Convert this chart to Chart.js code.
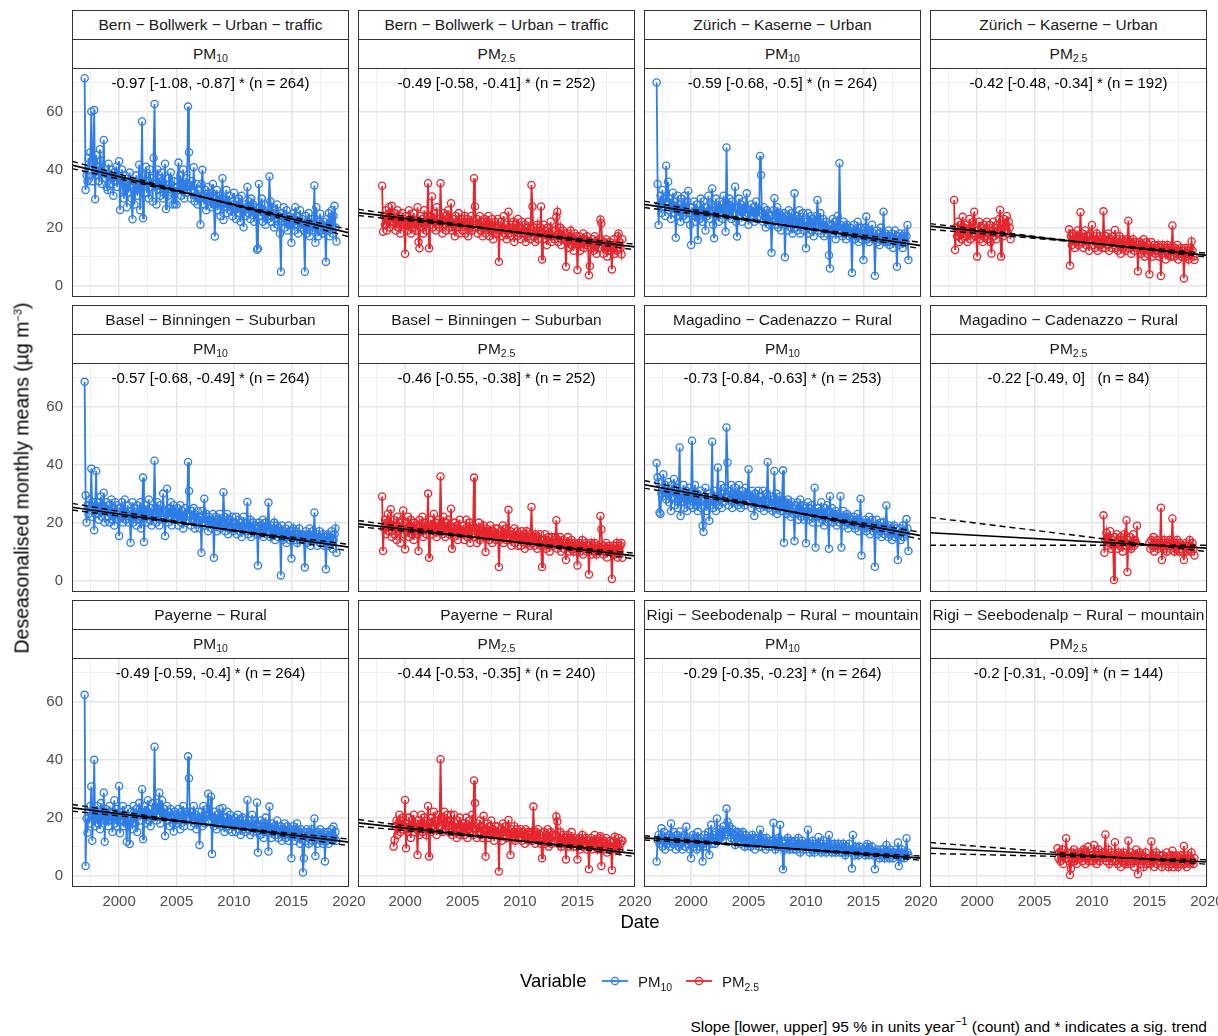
<!DOCTYPE html>
<html>
<head>
<meta charset="utf-8">
<title>Deseasonalised PM trends</title>
<script src="https://cdn.jsdelivr.net/npm/chart.js@4.4.1/dist/chart.umd.min.js"></script>
<style>
  body { margin: 0; background: #fff; font-family: "Liberation Sans", Arial, sans-serif; }
  #page { position: relative; width: 1218px; height: 1036px; overflow: hidden; }
  canvas { position: absolute; }
  .strip { position: absolute; box-sizing: border-box; border: 1px solid #333; background: #fff; color: #1a1a1a;
           font-size: 15.5px; display: flex; align-items: center; justify-content: center; white-space: nowrap; overflow: hidden; z-index: 2; }
  .frame { position: absolute; box-sizing: border-box; border: 1px solid #333; pointer-events: none; z-index: 2; }
  .note { position: absolute; font-size: 15px; line-height: 18px; color: #000; text-align: center; white-space: nowrap; z-index: 3; }
  .sub { font-size: 10.5px; position: relative; top: 4px; }
  .sup { font-size: 11px; position: relative; top: -7px; }
  .title { position: absolute; font-size: 18.5px; color: #000; white-space: nowrap; }
  .lab { position: absolute; font-size: 15px; color: #1a1a1a; white-space: nowrap; }
</style>
</head>
<body>
<div id="page"></div>
<script>
// ---- data ----
const siteNames = [
  "Bern − Bollwerk − Urban − traffic",
  "Zürich − Kaserne − Urban",
  "Basel − Binningen − Suburban",
  "Magadino − Cadenazzo − Rural",
  "Payerne − Rural",
  "Rigi − Seebodenalp − Rural − mountain"
];
const xTicks = [2000, 2005, 2010, 2015, 2020];
const yTicks = [0, 20, 40, 60];

// monthly deseasonalised means, one row per year
const bernPM10 = [
  71.5, 33, 38, 36, 44, 40, 46, 60, 36, 42, 60.5, 29.8,
  45, 38, 41, 36, 47, 43, 35, 39, 50.2, 37, 40, 34,
  33, 42, 38, 35, 40, 37, 31, 39, 36, 41, 34, 38,
  42.9, 26.1, 37, 40, 33, 30, 38, 35, 27, 36, 32, 39,
  34, 30, 22.9, 36, 28, 33, 38, 31, 35, 41.7, 26, 33,
  56.6, 23.2, 35, 38, 41, 32, 36, 30, 40, 34, 37, 29,
  44, 62.6, 35, 28, 40, 33, 37, 31, 36, 39, 30, 34,
  42, 26.4, 33, 31, 37, 35, 39, 32, 28, 36, 28.1, 34,
  28, 36, 42.4, 33, 38, 31, 35, 40, 30, 34, 37, 32,
  61.7, 46, 34, 30, 36, 33, 40.8, 29, 31, 35, 28, 33,
  30, 21.1, 35, 39.9, 31, 28, 33, 26, 30, 34, 29, 31,
  27, 32, 35, 28, 16.9, 30, 33, 26, 29, 31, 24, 30,
  37, 22.6, 30, 27, 33, 25, 28, 31, 26, 29, 24, 28,
  32, 27, 23, 29, 25, 30, 28, 22, 31, 26, 20.1, 28,
  24, 27, 34, 25, 29, 23, 30, 26, 28, 22, 27, 25,
  12.4, 12.8, 35, 27, 24, 30, 22, 26, 28, 21, 25, 23,
  24, 37.6, 29, 22, 27, 25, 20, 26, 23, 28, 21, 24,
  18, 4.8, 25, 22, 27, 20, 23, 26, 19, 24, 21, 23,
  14.8, 22, 25, 19, 27, 21, 24, 18, 22, 26, 20, 23,
  21, 19, 4.8, 24, 18, 22, 25, 17, 21, 23, 19, 20,
  34.5, 14.8, 27, 20, 17, 22, 24.8, 19, 21, 18, 22, 20,
  8.2, 23, 19, 25, 17, 21, 26, 18, 24, 27.5, 20, 15.2
];
const bernPM25 = [
  34.4, 18.6, 24, 21, 26, 19, 23, 27, 20, 25, 27.5, 22,
  21, 25, 19, 23, 26, 20, 24, 18, 22, 25, 21, 23,
  11, 24, 21, 19, 26, 22, 18, 23, 20, 25, 21, 19,
  22, 27, 15, 12.9, 24, 20, 23, 18, 26, 21, 19, 24,
  35.3, 12.9, 24, 21, 30.7, 20, 25, 22, 19, 27, 23, 21,
  20, 35.3, 22, 18, 25, 21, 24, 19, 23, 26, 20, 22,
  28.4, 19, 23, 21, 17, 24, 20, 22, 25, 18, 21, 23,
  19, 22, 24, 18, 21, 23, 17, 22, 20, 24, 19, 21,
  37, 27.3, 20, 23, 18, 21, 24, 19, 22, 17, 20, 23,
  18, 22, 20, 24, 17, 21, 19, 23, 16, 20, 22, 18,
  20, 23, 8.2, 19, 22, 17, 20, 24, 18, 21, 16, 19,
  25.5, 18, 21, 17, 20, 22, 15, 19, 21, 17, 23, 18,
  20, 16, 22, 18, 19, 21, 15, 20, 17, 22, 18, 16,
  34.7, 27.3, 17, 20, 15, 19, 21, 16, 18, 20, 27.3, 9.0,
  18, 21, 16, 19, 14, 20, 17, 18, 22, 15, 19, 17,
  16, 19, 23.8, 25.5, 15, 18, 20, 14, 17, 19, 16, 18,
  6.5, 15, 18, 13, 17, 19, 14, 16, 12, 18, 15, 17,
  5.4, 14, 17, 12, 16, 15, 18, 13, 16, 14, 17, 15,
  3.6, 6.8, 15, 13, 16, 12, 17, 14, 11, 15, 13, 16,
  22.8, 21.5, 14, 11, 15, 13, 16, 10, 14, 12, 15, 13,
  5.6, 13, 16, 11, 14, 12, 17, 18, 15, 13, 10.8, 16
];
const zurichPM10 = [
  70, 35, 20.9, 28, 31, 25, 33, 27, 30, 24, 41.3, 29,
  35.8, 26, 30, 23, 28, 32, 25, 29, 16.5, 27, 31, 24,
  28, 22, 30, 26, 24, 31, 27, 23, 29, 32.6, 25, 21,
  14, 27, 24, 29, 22, 26, 28, 15.7, 25, 23, 30, 26,
  22, 29, 25, 19, 27, 24, 31, 26, 23, 28, 33.5, 21,
  16.3, 27, 30, 24, 26, 22, 29, 25, 28, 23, 31, 26,
  18.6, 47.6, 28, 24, 30, 26, 23, 29, 25, 27, 34.1, 22,
  16.9, 27, 30, 24, 28, 22, 26, 29, 24, 27, 31.8, 25,
  21, 26, 23, 28, 24, 27, 22, 25, 29, 23, 26, 24,
  44.7, 38.1, 25, 22, 27, 24, 20, 26, 23, 25, 21, 24,
  11.3, 22, 26, 30.1, 21, 24, 27, 20, 25, 23, 19, 24,
  22, 25, 9.8, 21, 24, 19, 26, 22, 20, 25, 18, 23,
  31.8, 20, 24, 19, 23, 26, 18, 22, 21, 25, 19, 22,
  12.9, 22, 25, 18, 21, 24, 19, 23, 17, 22, 20, 24,
  29.5, 19, 22, 25, 18, 21, 23, 17, 20, 22, 18, 21,
  10.5, 5.9, 21, 18, 23, 19, 22, 16, 20, 24, 18, 42.2,
  21, 19, 17, 22, 18, 20, 16, 21, 19, 17, 20, 18,
  4.4, 18, 21, 16, 19, 17, 22, 15, 18, 20, 16, 19,
  8.8, 17, 20, 23.8, 16, 18, 15, 19, 17, 21, 16, 18,
  3.4, 16, 19, 15, 18, 14, 20, 17, 16, 25.5, 15, 18,
  17, 15, 19, 14, 17, 16, 18, 13, 16, 19, 15, 6.5,
  17, 14, 18, 15, 17, 13, 16, 18, 15, 17, 20.9, 8.8
];
const zurichPM25a = [
  29.5, 12.3, 20, 17, 22, 15, 19, 21, 16, 23.7, 18, 20,
  17, 21, 15, 19, 23, 16, 20, 18, 22, 25.5, 17, 19,
  10, 19, 22, 16, 20, 18, 15, 21, 17, 19, 22, 16,
  18, 21, 15, 11.1, 19, 22, 17, 20, 16, 21, 18, 23,
  26.1, 10, 21, 17, 23, 19, 21, 24, 18, 22, 20, 16
];
const zurichPM25b = [
  19.4, 6.9, 17, 14, 18, 16, 13, 17, 15, 19, 14, 16,
  25.3, 15, 18, 13, 16, 19, 14, 17, 15, 12, 18, 16,
  20.9, 14, 17, 13, 16, 18, 12, 15, 17, 14, 16, 13,
  25.6, 16, 13, 17, 14, 18, 12, 15, 16, 13, 17, 14,
  19.2, 13, 16, 12, 15, 17, 11, 14, 16, 13, 15, 12,
  14, 16, 22.4, 13, 15, 11, 14, 16, 12, 15, 13, 14,
  5.0, 13, 15, 11, 14, 12, 16, 10, 13, 15, 11, 14,
  3.9, 12, 15, 10, 13, 14, 11, 13, 12, 14, 10, 13,
  3.3, 11, 14, 12, 13, 9, 12, 14, 11, 13, 10, 12,
  20.7, 12, 10, 13, 11, 14, 9, 12, 11, 13, 10, 12,
  2.5, 11, 13, 10, 12, 9, 11, 13, 15.2, 12, 10, 8.8
];
const baselPM10 = [
  68.5, 29.4, 20, 26, 23, 28, 25, 38.6, 22, 27, 17.4, 24,
  37.8, 23, 27, 21, 25, 29, 22, 26, 30.3, 20, 24, 27,
  22, 26, 20, 24, 28, 21, 25, 19, 27, 23, 26, 21,
  15.4, 25, 22, 27, 20, 24, 28, 21, 23, 26, 20, 24,
  13.1, 23, 27, 20, 25, 22, 19, 26, 23, 21, 27, 18,
  24, 35.5, 13.3, 22, 26, 20, 24, 28, 21, 25, 19, 23,
  22, 41.3, 25, 20, 27, 23, 19, 26, 22, 24, 30, 21,
  15.4, 24, 31.7, 20, 25, 22, 27, 19, 23, 26, 21, 24,
  22, 25, 19, 23, 26, 20, 24, 18, 22, 25, 20, 23,
  40.9, 30.9, 22, 19, 24, 21, 25, 18, 22, 20, 24, 21,
  18, 22, 9.6, 24, 20, 28.2, 19, 23, 21, 17, 22, 20,
  21, 18, 23, 7.9, 20, 22, 17, 21, 19, 23, 18, 20,
  19, 30.5, 22, 17, 20, 23, 16, 19, 21, 18, 22, 17,
  20, 18, 22, 16, 19, 21, 17, 20, 15, 19, 22, 18,
  17, 20, 27.1, 16, 19, 21, 15, 18, 20, 17, 19, 16,
  18, 5.2, 20, 16, 19, 17, 21, 15, 18, 20, 16, 19,
  26.9, 17, 15, 19, 16, 18, 20, 14, 17, 19, 15, 18,
  17, 1.8, 19, 14, 17, 15, 18, 13, 16, 19, 14, 17,
  7.6, 16, 18, 14, 17, 15, 13, 16, 18, 14, 16, 15,
  16, 14, 4.5, 17, 13, 16, 15, 18, 12, 15, 17, 14,
  23.5, 14, 16, 12, 15, 17, 13, 15, 14, 16, 12, 15,
  3.9, 14, 16, 12, 15, 13, 17, 11, 14, 16, 18, 9.6
];
const baselPM25 = [
  29.0, 10.2, 18, 21, 16, 20, 23, 17, 19, 24.6, 15, 19,
  21, 16, 19, 14, 22, 17, 20, 13, 18, 21, 24.2, 16,
  10.8, 20, 17, 22, 15, 19, 21, 16, 18, 14, 20, 17,
  19, 16, 10.2, 21, 17, 19, 22, 15, 18, 20, 16, 19,
  30.0, 7.9, 18, 21, 16, 19, 23, 17, 20, 15, 18, 21,
  17, 35.9, 19, 16, 22, 18, 15, 20, 17, 21, 16, 19,
  24.8, 11.0, 18, 15, 20, 17, 19, 14, 18, 21, 16, 17,
  16, 19, 14, 18, 21, 15, 17, 20, 13, 18, 16, 19,
  35.5, 15, 18, 13, 17, 20, 14, 16, 18, 15, 19, 17,
  9.9, 18, 15, 17, 14, 19, 16, 13, 17, 15, 18, 14,
  16, 18, 4.7, 14, 17, 15, 19, 13, 16, 18, 14, 15,
  24.4, 14, 17, 12, 16, 15, 18, 13, 15, 17, 12, 16,
  15, 12, 17, 14, 16, 11, 15, 17, 13, 15, 12, 16,
  25.4, 13, 15, 12, 16, 14, 11, 15, 13, 16, 12, 4.7,
  14, 12, 16, 11, 14, 13, 15, 10, 13, 15, 12, 14,
  13, 15, 20.8, 11, 14, 12, 15, 10, 13, 14, 11, 13,
  7.1, 12, 15, 10, 13, 11, 14, 12, 10, 13, 11, 12,
  5.2, 11, 13, 10, 12, 14, 9, 12, 11, 13, 10, 12,
  2.1, 11, 13, 9, 12, 10, 13, 11, 9, 12, 10, 11,
  22.3, 17.7, 11, 9, 12, 10, 13, 8, 11, 12, 10, 11,
  0.6, 10, 12, 9, 11, 13, 8, 11, 10, 12, 13, 7.9
];
const magadinoPM10 = [
  40.5, 35.6, 34, 23.5, 23, 30, 29, 36.7, 31, 33, 28, 30,
  34, 27, 31, 24, 33, 29, 35, 26, 30, 32, 25, 28,
  45.9, 22.3, 30, 27, 33, 25, 29, 31, 24, 28, 32, 26,
  30, 48.2, 25, 28, 33, 26, 30, 24, 29, 27, 31, 25,
  18.9, 16.8, 28, 32, 24, 27, 30, 20.6, 26, 29, 47.9, 25,
  31, 27, 24, 29, 39, 26, 28, 33, 25, 30, 27, 32,
  29, 52.8, 40.7, 26, 31, 28, 33, 25, 30, 27, 32, 28,
  30, 26, 33, 28, 25, 31, 27, 29, 26, 32, 28, 30,
  38.4, 27, 29, 25, 31, 28, 22.3, 30, 26, 28, 31, 27,
  25, 29, 27, 31, 24, 28, 26, 30, 40.9, 25, 27, 29,
  26, 24, 28, 37.8, 25, 30, 23, 27, 25, 29, 24, 28,
  38, 13.1, 25, 27, 23, 28, 24, 26, 22, 27, 25, 23,
  13.7, 26, 23, 27, 21, 25, 28, 22, 24, 26, 21, 25,
  12.9, 24, 27, 21, 25, 22, 26, 20, 24, 32.0, 11.4, 23,
  22, 25, 20, 24, 27, 21, 23, 19, 25, 22, 26, 20,
  11.0, 29.1, 22, 25, 20, 23, 21, 24, 19, 23, 22, 20,
  29.1, 11.4, 21, 24, 19, 22, 20, 23, 18, 22, 20, 21,
  21, 19, 22, 18, 21, 20, 23, 17, 20, 28.2, 8.7, 19,
  20, 18, 21, 17, 20, 19, 22, 16, 19, 21, 17, 19,
  4.8, 18, 21, 16, 19, 17, 20, 15, 18, 20, 16, 19,
  25.9, 17, 15, 19, 16, 18, 14, 17, 19, 15, 18, 16,
  7.1, 16, 18, 14, 17, 19, 15, 17, 16, 21.2, 18, 10.2
];
const magadinoPM25a = [
  22.5, 9.6, 14, 16.5, 12, 15, 13, 17, 11, 14, 12, 0.2,
  15, 13, 16, 11, 14, 12, 15, 13, 10, 14, 16, 12,
  20.8, 3.0, 14, 12, 15, 11, 13, 16, 12, 14, 13, 18.9
];
const magadinoPM25b = [
  13, 11, 14, 12, 15, 10, 13, 12, 14, 11, 13, 12,
  25.1, 7.1, 13, 11, 14, 12, 10, 13, 12, 14, 11, 13,
  21.4, 12, 10, 13, 11, 14, 12, 10, 13, 11, 12, 10,
  7.1, 12, 13, 10, 12, 11, 14, 12, 10, 13, 11, 8.7
];
const payernePM10 = [
  62.3, 3.3, 19.7, 14.8, 22, 18, 24, 30.7, 12.0, 21, 39.9, 17,
  20, 24, 18, 22, 16, 25, 19, 21, 28.6, 11.7, 23, 19,
  21, 17, 24, 19, 22, 15, 20, 26, 18, 23, 17, 21,
  30.9, 14.6, 22, 19, 24, 17, 21, 18, 11.7, 23, 20, 10.9,
  19, 22, 16, 24, 20, 18, 23, 15, 21, 25, 19, 22,
  29.8, 12.5, 21, 24, 18, 22, 26, 19, 23, 17, 21, 25,
  20, 44.4, 23, 19, 25, 21, 28.6, 18, 22, 26, 20, 23,
  13.7, 21, 24, 19, 22, 17, 23, 20, 18, 15.2, 22, 19,
  21, 18, 23, 19, 16, 22, 20, 24, 17, 21, 19, 22,
  41.1, 33.6, 20, 17, 22, 19, 24, 18, 21, 16, 20, 22,
  10.6, 19, 22, 17, 24, 20, 18, 21, 23, 28.2, 19, 21,
  27.3, 7.5, 20, 17, 22, 19, 16, 21, 18, 23, 20, 17,
  23.3, 18, 15, 20, 17, 22, 19, 16, 21, 18, 15, 19,
  17, 20, 15, 18, 21, 16, 19, 14, 18, 20, 16, 19,
  15, 18, 26.1, 16, 19, 14, 18, 21, 15, 17, 19, 16,
  25.2, 8.0, 17, 14, 19, 16, 18, 13, 17, 20, 15, 17,
  8.3, 23.8, 16, 13, 18, 15, 17, 14, 16, 19, 13, 16,
  15, 17, 12, 16, 14, 18, 13, 15, 17, 12, 16, 14,
  6.0, 15, 17, 12, 16, 14, 18, 13, 15, 11, 16, 14,
  1.1, 6.0, 15, 12, 16, 13, 11, 15, 14, 16, 12, 14,
  19.7, 6.8, 14, 11, 15, 13, 16, 12, 14, 11, 15, 4.9,
  14, 12, 15, 11, 14, 13, 16, 12, 16.9, 13, 15, 12
];
const payernePM25 = [
  10.0, 12.3, 17, 19, 14, 18, 21, 15, 19, 16, 20, 17,
  26.1, 9.4, 18, 15, 20, 16, 13, 19, 17, 21, 15, 18,
  16, 7.1, 19, 14, 18, 21, 15, 17, 20, 16, 14, 19,
  24.0, 6.6, 18, 15, 20, 17, 22, 16, 19, 14, 18, 21,
  17, 40.1, 20, 15, 19, 22, 16, 18, 21, 17, 15, 19,
  20.9, 14, 17, 21, 15, 18, 13, 19, 16, 20, 14, 17,
  15, 18, 14, 17, 20, 13, 16, 19, 15, 17, 21, 14,
  32.8, 25.0, 16, 13, 18, 15, 19, 14, 17, 13, 20.6, 16,
  6.6, 15, 18, 13, 17, 14, 19, 15, 16, 12, 17, 14,
  15, 17, 1.4, 14, 16, 12, 18, 14, 15, 17, 13, 15,
  19.2, 14, 7.1, 16, 13, 15, 17, 12, 14, 16, 13, 15,
  13, 16, 12, 15, 14, 11, 16, 13, 15, 12, 14, 13,
  15, 12, 23.8, 14, 11, 15, 13, 16, 12, 14, 11, 6.0,
  13, 15, 11, 14, 12, 16, 10, 13, 15, 11, 14, 12,
  12, 14, 20.4, 18.7, 11, 13, 15, 10, 12, 14, 11, 13,
  5.6, 12, 14, 10, 13, 11, 15, 12, 10, 13, 11, 12,
  5.6, 11, 13, 9, 12, 14, 10, 12, 11, 13, 9, 12,
  2.2, 10, 13, 9, 12, 11, 14, 10, 12, 9, 11, 13,
  13.6, 3.3, 11, 9, 12, 10, 13, 8, 11, 10, 12, 9,
  1.9, 10, 12, 13.4, 9, 11, 10, 13, 9, 11, 12, 12.0
];
const rigiPM10 = [
  4.9, 12.3, 14, 11, 13, 16.3, 10, 12, 15, 9, 13, 11,
  12, 14, 10, 18.0, 13, 11, 15, 12, 9, 14, 12, 10,
  15.2, 11, 13, 9, 12, 14, 10, 16.9, 12, 11, 13, 9,
  6.0, 12, 14, 10, 13, 11, 9, 15, 12, 10, 13, 11,
  4.9, 11, 14, 12, 10, 13, 15, 7.1, 12, 17.5, 11, 14,
  13, 11, 15, 19.7, 12, 14, 16, 13, 15, 12, 17, 14,
  15, 23.1, 18.6, 14, 17, 15, 13, 16, 14, 12, 10.6, 15,
  13, 15, 12, 14, 11, 13, 15, 12, 10, 14, 12, 13,
  11, 13, 10, 12, 14, 11, 13, 9, 12, 11, 13, 10,
  15.8, 12, 10, 13, 11, 12, 9, 13, 11, 10, 12, 11,
  10, 12, 18.2, 11, 9, 12, 10, 13, 11, 17.5, 10, 12,
  2.2, 11, 9, 12, 10, 13, 11, 9, 12, 10, 11, 9,
  10, 12, 9, 11, 13, 10, 8, 11, 12, 9, 11, 10,
  9, 11, 15.8, 10, 8, 11, 9, 12, 10, 8, 11, 9,
  10, 13.3, 9, 11, 8, 10, 12, 9, 10, 8, 11, 9,
  14.0, 9, 11, 8, 10, 9, 11, 8, 10, 9, 11, 8,
  9, 10, 8, 11, 9, 7, 10, 8, 9, 11, 8, 9,
  2.5, 14.0, 9, 7, 10, 8, 9, 7, 10, 8, 9, 8,
  8, 9, 7, 10, 10.9, 8, 7, 9, 8, 10, 7, 8,
  2.2, 8, 9, 7, 8, 6, 9, 8, 7, 9, 6, 8,
  10.6, 7, 8, 6, 9, 7, 8, 6, 8, 7, 9, 7,
  11.4, 3.3, 8, 6, 9, 7, 8, 6, 7, 12.9, 8, 7
];
const rigiPM25 = [
  9.4, 6, 8, 5, 7, 9, 4, 7, 6, 12.9, 8, 6,
  5, 0.2, 2.5, 8, 6, 9, 5, 7, 4, 8, 6, 7,
  6, 8, 5, 9, 7, 4, 8, 6, 10, 5, 7, 6,
  7, 5, 10.6, 6, 8, 4, 7, 9, 5, 7, 6, 8,
  6, 8, 14.2, 5, 7, 9, 4, 6, 8, 5, 7, 6,
  11.5, 5, 7, 4, 8, 6, 3, 7, 5, 8, 6, 4,
  7, 5, 12.0, 6, 4, 8, 5, 7, 3, 6, 9, 5,
  0.5, 6, 8, 4, 7, 5, 3, 6, 8, 4, 6, 5,
  6, 4, 11.8, 5, 7, 3, 6, 8, 4, 6, 5, 7,
  5, 3, 7, 5, 6, 4, 8, 5, 3, 6, 7, 4,
  8.6, 2.9, 6, 4, 7, 5, 3, 6, 4, 7, 5, 6,
  10.2, 4, 6, 3, 7, 5, 4, 6, 8, 5, 4, 6
];

// Theil-Sen slopes (units / year) per panel, row by row
const slopes     = [-0.97, -0.49, -0.59, -0.42, -0.57, -0.46, -0.73, -0.22, -0.49, -0.44, -0.29, -0.2];
const slopeLower = [-1.08, -0.58, -0.68, -0.48, -0.68, -0.55, -0.84, -0.49, -0.59, -0.53, -0.35, -0.31];
const slopeUpper = [-0.87, -0.41, -0.5, -0.34, -0.49, -0.38, -0.63, 0, -0.4, -0.35, -0.23, -0.09];
const counts     = [264, 252, 264, 192, 264, 252, 253, 84, 264, 240, 264, 144];
const significant = [true, true, true, true, true, true, true, false, true, true, true, true];
// where the trend lines pivot (year, value)
const trendYear  = [2008, 2008.5, 2008, 2010, 2008, 2008.5, 2008.4, 2015.5, 2008, 2009, 2008, 2013];
const trendValue = [29.8, 19.0, 20.9, 14.6, 18.4, 13.8, 24.0, 12.2, 17.4, 12.4, 9.5, 6.1];

// ---- build ----
const X_MIN = 1995.9, X_MAX = 2020.01;
const Y_MIN = -3.57, Y_MAX = 75.0;
const PM10_COL = "#2f7de6";
const PM25_COL = "#e6262e";

function monthly(startYear, values) {
  return values.map((v, i) => ({ x: startYear + i / 12, y: v }));
}
function gap(year) { return [{ x: year, y: null }]; }

const panels = [
  { site: 0, pm: "10",  series: monthly(1997, bernPM10) },
  { site: 0, pm: "2.5", series: monthly(1998, bernPM25) },
  { site: 1, pm: "10",  series: monthly(1997, zurichPM10) },
  { site: 1, pm: "2.5", series: monthly(1998, zurichPM25a).concat(gap(2005), monthly(2008, zurichPM25b)) },
  { site: 2, pm: "10",  series: monthly(1997, baselPM10) },
  { site: 2, pm: "2.5", series: monthly(1998, baselPM25) },
  { site: 3, pm: "10",  series: monthly(1997, magadinoPM10) },
  { site: 3, pm: "2.5", series: monthly(2011, magadinoPM25a).concat(gap(2014.5), monthly(2015, magadinoPM25b)) },
  { site: 4, pm: "10",  series: monthly(1997, payernePM10) },
  { site: 4, pm: "2.5", series: monthly(1999, payernePM25) },
  { site: 5, pm: "10",  series: monthly(1997, rigiPM10) },
  { site: 5, pm: "2.5", series: monthly(2007, rigiPM25) }
];

function trendLine(k, s) {
  return [X_MIN, X_MAX].map(x => ({ x: x, y: trendValue[k] + s * (x - trendYear[k]) }));
}

Chart.defaults.font.family = '"Liberation Sans", Arial, sans-serif';

const page = document.getElementById("page");
const COL_LEFT = [72, 358, 644, 930];
const ROW_TOP = [10, 305, 600];
const W = 277, H = 228, STRIP = 29;
const Y_AXIS_W = 44, X_AXIS_H = 30, PAD_R = 24;

function el(cls, css, html) {
  const d = document.createElement("div");
  d.className = cls;
  Object.assign(d.style, css);
  d.innerHTML = html;
  page.appendChild(d);
  return d;
}

const majorGrid = "#e6e6e6", minorGrid = "#efefef";

panels.forEach((p, k) => {
  const r = Math.floor(k / 4), c = k % 4;
  const left = COL_LEFT[c], top = ROW_TOP[r];
  const plotTop = top + 2 * STRIP;
  const isLeft = c === 0, isBottom = r === 2;

  el("strip", { left: left + "px", top: top + "px", width: W + "px", height: (STRIP + 1) + "px" }, siteNames[p.site]);
  el("strip", { left: left + "px", top: (top + STRIP) + "px", width: W + "px", height: (STRIP + 1) + "px" },
     'PM<span class="sub">' + p.pm + '</span>');

  const cv = document.createElement("canvas");
  const cw = W + (isLeft ? Y_AXIS_W : 0) + PAD_R;
  const ch = H + (isBottom ? X_AXIS_H : 0);
  cv.width = cw; cv.height = ch;
  cv.style.width = cw + "px"; cv.style.height = ch + "px";
  cv.style.left = (left - (isLeft ? Y_AXIS_W : 0)) + "px";
  cv.style.top = plotTop + "px";
  page.appendChild(cv);

  el("frame", { left: left + "px", top: plotTop + "px", width: W + "px", height: (H + 1) + "px" }, "");
  const label = slopes[k] + " [" + slopeLower[k] + ", " + slopeUpper[k] + "] " +
                (significant[k] ? "*" : "&nbsp;") + " (n = " + counts[k] + ")";
  el("note", { left: left + "px", top: (plotTop + 6) + "px", width: W + "px" }, label);

  const col = p.pm === "10" ? PM10_COL : PM25_COL;
  new Chart(cv, {
    type: "line",
    data: {
      datasets: [
        { data: trendLine(k, slopes[k]), borderColor: "#000", borderWidth: 1.7, pointRadius: 0, order: 0 },
        { data: trendLine(k, slopeLower[k]), borderColor: "#000", borderWidth: 1.4, borderDash: [6, 4], pointRadius: 0, order: 0 },
        { data: trendLine(k, slopeUpper[k]), borderColor: "#000", borderWidth: 1.4, borderDash: [6, 4], pointRadius: 0, order: 0 },
        {
          data: p.series, borderColor: col, borderWidth: 1.8, spanGaps: false, tension: 0,
          pointRadius: 3.6, pointBorderWidth: 1.3, pointBorderColor: col,
          pointBackgroundColor: "rgba(0,0,0,0)", order: 1
        }
      ]
    },
    options: {
      responsive: false,
      animation: false,
      devicePixelRatio: 1,
      events: [],
      layout: { autoPadding: false, padding: { left: 0, right: PAD_R, top: 0, bottom: 0 } },
      plugins: { legend: { display: false }, tooltip: { enabled: false } },
      scales: {
        x: {
          type: "linear", min: X_MIN, max: X_MAX,
          border: { display: false },
          grid: {
            drawTicks: false,
            color: ctx => xTicks.includes(ctx.tick.value) ? majorGrid : minorGrid,
            lineWidth: ctx => xTicks.includes(ctx.tick.value) ? 1.5 : 1
          },
          ticks: {
            display: isBottom, stepSize: 2.5, includeBounds: false, autoSkip: false,
            maxRotation: 0, minRotation: 0, padding: 7, color: "#4d4d4d", font: { size: 15 },
            callback: v => xTicks.includes(v) ? String(v) : ""
          },
          afterFit: s => { s.height = isBottom ? X_AXIS_H : 0; s.paddingLeft = 0; s.paddingRight = 0; }
        },
        y: {
          type: "linear", min: Y_MIN, max: Y_MAX,
          border: { display: false },
          grid: {
            drawTicks: false,
            color: ctx => yTicks.includes(ctx.tick.value) ? majorGrid : minorGrid,
            lineWidth: ctx => yTicks.includes(ctx.tick.value) ? 1.5 : 1
          },
          ticks: {
            display: isLeft, stepSize: 10, includeBounds: false, autoSkip: false,
            padding: 9, color: "#4d4d4d", font: { size: 15 },
            callback: v => yTicks.includes(v) ? String(v) : ""
          },
          afterFit: s => { s.width = isLeft ? Y_AXIS_W : 0; s.paddingTop = 0; s.paddingBottom = 0; }
        }
      }
    }
  });
});

// axis titles, legend, caption
el("title", { left: "640px", top: "922px", transform: "translate(-50%, -50%)" }, "Date");
el("title", { left: "22px", top: "478px", transform: "translate(-50%, -50%) rotate(-90deg)", fontSize: "19.5px" },
   'Deseasonalised monthly means (µg m<span class="sup">−3</span>)');
el("title", { left: "520px", top: "981px", transform: "translateY(-50%)" }, "Variable");

function legendKey(x, color) {
  el("", { position: "absolute", left: x + "px", top: "974px", width: "26px", height: "14px" },
     '<svg width="26" height="14"><line x1="0" y1="7" x2="26" y2="7" stroke="' + color + '" stroke-width="1.8"/>' +
     '<circle cx="13" cy="7" r="3.6" fill="none" stroke="' + color + '" stroke-width="1.3"/></svg>');
}
legendKey(602, PM10_COL);
legendKey(686, PM25_COL);
el("lab", { left: "638px", top: "981px", transform: "translateY(-50%)" }, 'PM<span class="sub">10</span>');
el("lab", { left: "722px", top: "981px", transform: "translateY(-50%)" }, 'PM<span class="sub">2.5</span>');

el("lab", { right: "11px", top: "1027px", transform: "translateY(-50%)", fontSize: "15.5px", color: "#000" },
   'Slope [lower, upper] 95 % in units year<span class="sup">−1</span> (count) and * indicates a sig. trend');
</script>
</body>
</html>
